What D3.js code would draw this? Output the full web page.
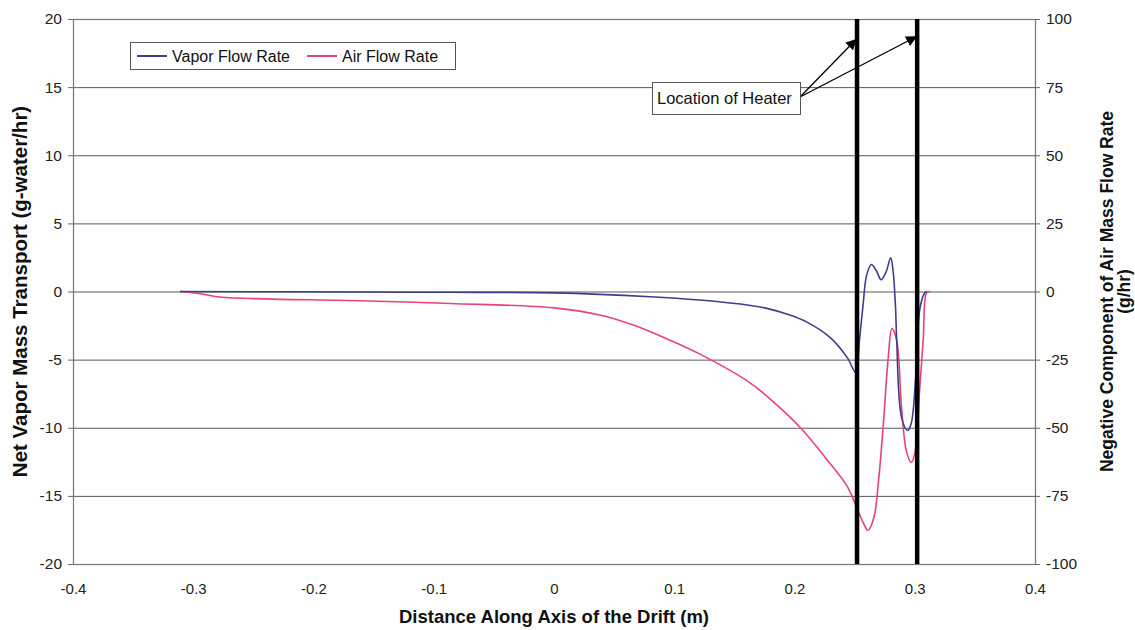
<!DOCTYPE html>
<html>
<head>
<meta charset="utf-8">
<script src="https://cdn.jsdelivr.net/npm/d3@7/dist/d3.min.js"></script>
<style>
  html, body { margin: 0; padding: 0; background: #fff; }
  svg { display: block; font-family: "Liberation Sans", Arial, sans-serif; }
</style>
</head>
<body>
<svg id="chart" width="1135" height="630"></svg>
<script>
// Distance along the drift axis (m) and net vapor transport (g-water/hr)
const vaporX = [-0.311, -0.161, -0.086, 0.000, 0.080, 0.121, 0.155, 0.177, 0.196, 0.210, 0.230, 0.244, 0.251,
                0.254, 0.257, 0.260, 0.264, 0.268, 0.272, 0.276, 0.280, 0.282, 0.284, 0.285, 0.289,
                0.294, 0.297, 0.301, 0.304, 0.308, 0.310];
const vaporY = [0.0, -0.04, -0.06, -0.10, -0.38, -0.62, -0.92, -1.24, -1.72, -2.23, -3.40, -4.87, -5.95,
                -3.6, -1.0, 1.2, 1.98, 1.54, 0.86, 1.4, 2.48, 1.5, -1.15, -3.6, -9.24,
                -10.2, -9.7, -6.0, -1.4, -0.15, 0.0];

// Negative component of air mass flow rate (g/hr), plotted on the right axis
const airX = [-0.311, -0.294, -0.278, -0.161, -0.086, 0.000, 0.038, 0.066, 0.094, 0.121, 0.163, 0.185,
              0.205, 0.227, 0.244, 0.250, 0.257, 0.261, 0.266, 0.270, 0.274, 0.278, 0.281, 0.285, 0.289,
              0.293, 0.297, 0.300, 0.304, 0.307, 0.310, 0.313];
const airY = [0.0, -0.8, -2.0, -3.4, -4.4, -6.0, -8.6, -12.3, -17.4, -22.9, -33.5, -41.5,
              -50.0, -61.7, -71.6, -77.4, -84.7, -87.6, -83.0, -69.0, -48.0, -24.0, -13.6, -18.0, -42.5,
              -58.4, -62.7, -59.5, -36.4, -18.0, -0.4, 0.0];

// Heater positions (m)
const heaterX = [0.252, 0.302];

// Axis ticks
const xTicks = [-0.4, -0.3, -0.2, -0.1, 0, 0.1, 0.2, 0.3, 0.4];
const xTickLabels = ["-0.4", "-0.3", "-0.2", "-0.1", "0", "0.1", "0.2", "0.3", "0.4"];
const leftTicks = [-20, -15, -10, -5, 0, 5, 10, 15, 20];
const rightTicks = [-100, -75, -50, -25, 0, 25, 50, 75, 100];

const seriesNames = ["Vapor Flow Rate", "Air Flow Rate"];
const seriesColors = ["#3b3f8c", "#e8417e"];

const svg = d3.select("#chart");
const plot = { left: 73, right: 1035, top: 19, bottom: 564 };

const x = d3.scaleLinear().domain([-0.4, 0.4]).range([plot.left, plot.right]);
const yL = d3.scaleLinear().domain([-20, 20]).range([plot.bottom, plot.top]);
const yR = d3.scaleLinear().domain([-100, 100]).range([plot.bottom, plot.top]);

// Horizontal gridlines
svg.append("g")
  .selectAll("line")
  .data(leftTicks)
  .join("line")
  .attr("x1", plot.left).attr("x2", plot.right)
  .attr("y1", d => yL(d) + 0.5).attr("y2", d => yL(d) + 0.5)
  .attr("stroke", "#5e5752").attr("stroke-width", 1);

// Plot frame
svg.append("rect")
  .attr("x", plot.left + 0.5).attr("y", plot.top + 0.5)
  .attr("width", plot.right - plot.left).attr("height", plot.bottom - plot.top)
  .attr("fill", "none").attr("stroke", "#7d7470").attr("stroke-width", 1.2);

// Axes
const axisStyle = size => g => {
  g.select(".domain").remove();
  g.selectAll(".tick line").attr("stroke", "#6e6560");
  g.selectAll(".tick text").attr("fill", "#222").style("font-size", size)
    .style("font-family", "'Liberation Sans', Arial, sans-serif");
};

svg.append("g")
  .attr("transform", `translate(${plot.left},0)`)
  .call(d3.axisLeft(yL).tickValues(leftTicks).tickSize(5).tickPadding(6).tickFormat(d => String(d)))
  .call(axisStyle("15.5px"));

svg.append("g")
  .attr("transform", `translate(${plot.right},0)`)
  .call(d3.axisRight(yR).tickValues(rightTicks).tickSize(5).tickPadding(6).tickFormat(d => String(d)))
  .call(axisStyle("15.5px"));

svg.append("g")
  .attr("transform", `translate(0,${plot.bottom})`)
  .call(d3.axisBottom(x).tickValues(xTicks).tickSize(0).tickPadding(19)
        .tickFormat((d, i) => xTickLabels[i]))
  .call(axisStyle("15px"));

// Series lines (smoothed)
const smooth = d3.curveCatmullRom.alpha(0.5);
const vaporLine = d3.line()
  .x((d, i) => x(vaporX[i]))
  .y(d => yL(d))
  .curve(smooth);
const airLine = d3.line()
  .x((d, i) => x(airX[i]))
  .y(d => yR(d))
  .curve(smooth);

svg.append("path")
  .attr("d", airLine(airY))
  .attr("fill", "none").attr("stroke", seriesColors[1]).attr("stroke-width", 1.6);
svg.append("path")
  .attr("d", vaporLine(vaporY))
  .attr("fill", "none").attr("stroke", seriesColors[0]).attr("stroke-width", 1.6);

// Heater markers
svg.append("g")
  .selectAll("line")
  .data(heaterX)
  .join("line")
  .attr("x1", d => x(d)).attr("x2", d => x(d))
  .attr("y1", plot.top).attr("y2", plot.bottom)
  .attr("stroke", "#000").attr("stroke-width", 4.5);

// Heater callout
const defs = svg.append("defs");
defs.append("marker")
  .attr("id", "arrow")
  .attr("viewBox", "0 0 10 10")
  .attr("refX", 9).attr("refY", 5)
  .attr("markerWidth", 11).attr("markerHeight", 11)
  .attr("markerUnits", "userSpaceOnUse")
  .attr("orient", "auto")
  .append("path")
  .attr("d", "M0,0 L10,5 L0,10 Z")
  .attr("fill", "#000");

const callout = { x: 652, y: 82, w: 148, h: 32 };
const arrowTipY = [yL(18.5), yL(18.7)];
svg.append("g")
  .selectAll("line")
  .data(heaterX)
  .join("line")
  .attr("x1", callout.x + callout.w).attr("y1", callout.y + 15)
  .attr("x2", d => x(d) - 1).attr("y2", (d, i) => arrowTipY[i])
  .attr("stroke", "#000").attr("stroke-width", 1.3)
  .attr("marker-end", "url(#arrow)");

svg.append("rect")
  .attr("x", callout.x + 0.5).attr("y", callout.y + 0.5)
  .attr("width", callout.w).attr("height", callout.h)
  .attr("fill", "#fff").attr("stroke", "#555").attr("stroke-width", 1);
svg.append("text")
  .attr("x", callout.x + 5).attr("y", callout.y + 22)
  .style("font-size", "16.5px").attr("fill", "#111")
  .text("Location of Heater");

// Legend
const legend = svg.append("g").attr("transform", "translate(130,42)");
legend.append("rect")
  .attr("x", 0.5).attr("y", 0.5).attr("width", 325).attr("height", 27)
  .attr("fill", "#fff").attr("stroke", "#555").attr("stroke-width", 1);
const legendX = [7, 177];
seriesNames.forEach((name, i) => {
  legend.append("line")
    .attr("x1", legendX[i]).attr("x2", legendX[i] + 30)
    .attr("y1", 14).attr("y2", 14)
    .attr("stroke", seriesColors[i]).attr("stroke-width", 2);
  legend.append("text")
    .attr("x", legendX[i] + 35).attr("y", 20)
    .style("font-size", "16px").attr("fill", "#111")
    .text(name);
});

// Axis titles
svg.append("text")
  .attr("x", x(0)).attr("y", 623)
  .attr("text-anchor", "middle")
  .style("font-size", "18.5px").style("font-weight", "bold").attr("fill", "#111")
  .text("Distance Along Axis of the Drift (m)");

svg.append("text")
  .attr("transform", `translate(27,${(plot.top + plot.bottom) / 2}) rotate(-90)`)
  .attr("text-anchor", "middle")
  .style("font-size", "20.5px").style("font-weight", "bold").attr("fill", "#111")
  .text("Net Vapor Mass Transport (g-water/hr)");

const rightTitle = svg.append("text")
  .attr("transform", `translate(1113,${(plot.top + plot.bottom) / 2}) rotate(-90)`)
  .attr("text-anchor", "middle")
  .style("font-size", "17.5px").style("font-weight", "bold").attr("fill", "#111");
rightTitle.append("tspan").attr("x", 0).attr("dy", 0).text("Negative Component of Air Mass Flow Rate");
rightTitle.append("tspan").attr("x", 0).attr("dy", 17).text("(g/hr)");
</script>
</body>
</html>
